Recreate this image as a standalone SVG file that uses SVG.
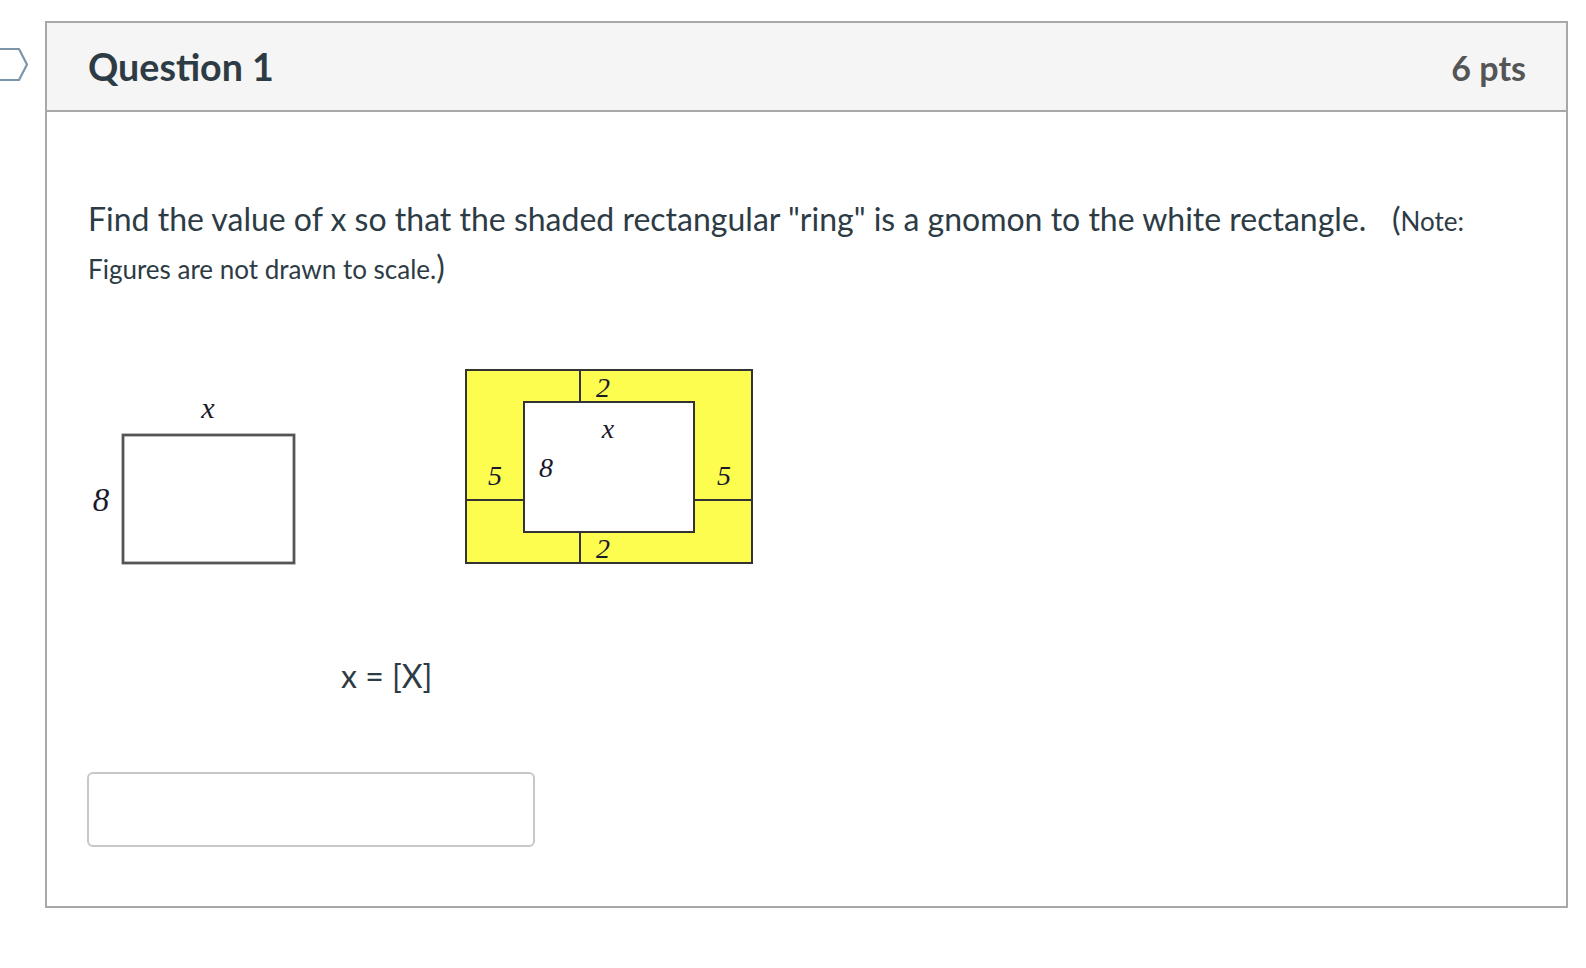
<svg xmlns="http://www.w3.org/2000/svg" width="1586" height="968" viewBox="0 0 1586 968">
<style>
.lato{font-family:Lato,"Open Sans","Liberation Sans",sans-serif;fill:#2d3b45}
.math{font-family:"Liberation Serif","Times New Roman",serif;font-style:italic;fill:#1a1a2a}
.fig{stroke:#333;stroke-width:2;}
</style>
<rect width="1586" height="968" fill="#fff"/>
<g id="chevron"><path d="M0 49 H19 L27 64.5 L19 80 H0" fill="none" stroke="#7d95ab" stroke-width="2.2" stroke-linejoin="round"/></g>
<g id="card">
<rect x="46" y="22" width="1521" height="885" fill="#fff" stroke="#a8a8a8" stroke-width="2"/>
<rect x="47" y="23" width="1519" height="88" fill="#f5f5f5"/>
<line x1="46" y1="111" x2="1567" y2="111" stroke="#a8a8a8" stroke-width="2"/>
<text class="lato" x="88" y="81" font-size="37.6" font-weight="bold">Question 1</text>
<text class="lato" x="1526" y="81" font-size="34" font-weight="bold" text-anchor="end" style="fill:#555">6 pts</text>
</g>
<g id="question-text">
<text class="lato" x="88" y="231" font-size="32">Find the value of x so that the shaded rectangular "ring" is a gnomon to the white rectangle.</text>
<text class="lato" x="1392" y="231" font-size="32">(<tspan font-size="26">Note:</tspan></text>
<text class="lato" x="88" y="279" font-size="26">Figures are not drawn to scale.<tspan font-size="32">)</tspan></text>
</g>
<g id="white-rect">
<rect x="123" y="435" width="171" height="128" fill="#fff" stroke="#555" stroke-width="2.8"/>
<text class="math" x="208" y="418" font-size="30" text-anchor="middle">x</text>
<text class="math" x="101" y="511" font-size="33" text-anchor="middle">8</text>
</g>
<g id="gnomon">
<rect x="466" y="370" width="286" height="193" fill="#fdfd50" stroke="#333" stroke-width="2"/>
<rect x="524" y="402" width="170" height="130" fill="#fff" stroke="#333" stroke-width="2"/>
<line class="fig" x1="580" y1="370" x2="580" y2="402"/>
<line class="fig" x1="580" y1="532" x2="580" y2="563"/>
<line class="fig" x1="466" y1="500" x2="524" y2="500"/>
<line class="fig" x1="694" y1="500" x2="752" y2="500"/>
<text class="math" x="603" y="397" font-size="28" text-anchor="middle">2</text>
<text class="math" x="603" y="558" font-size="28" text-anchor="middle">2</text>
<text class="math" x="608" y="438" font-size="28" text-anchor="middle">x</text>
<text class="math" x="546" y="477" font-size="28" text-anchor="middle">8</text>
<text class="math" x="495" y="485" font-size="28" text-anchor="middle">5</text>
<text class="math" x="724" y="485" font-size="28" text-anchor="middle">5</text>
</g>
<g id="answer">
<text class="lato" x="341" y="688" font-size="32">x = [X]</text>
<rect x="88" y="773" width="446" height="73" rx="5" fill="#fff" stroke="#c8c8c8" stroke-width="2"/>
</g>
</svg>
